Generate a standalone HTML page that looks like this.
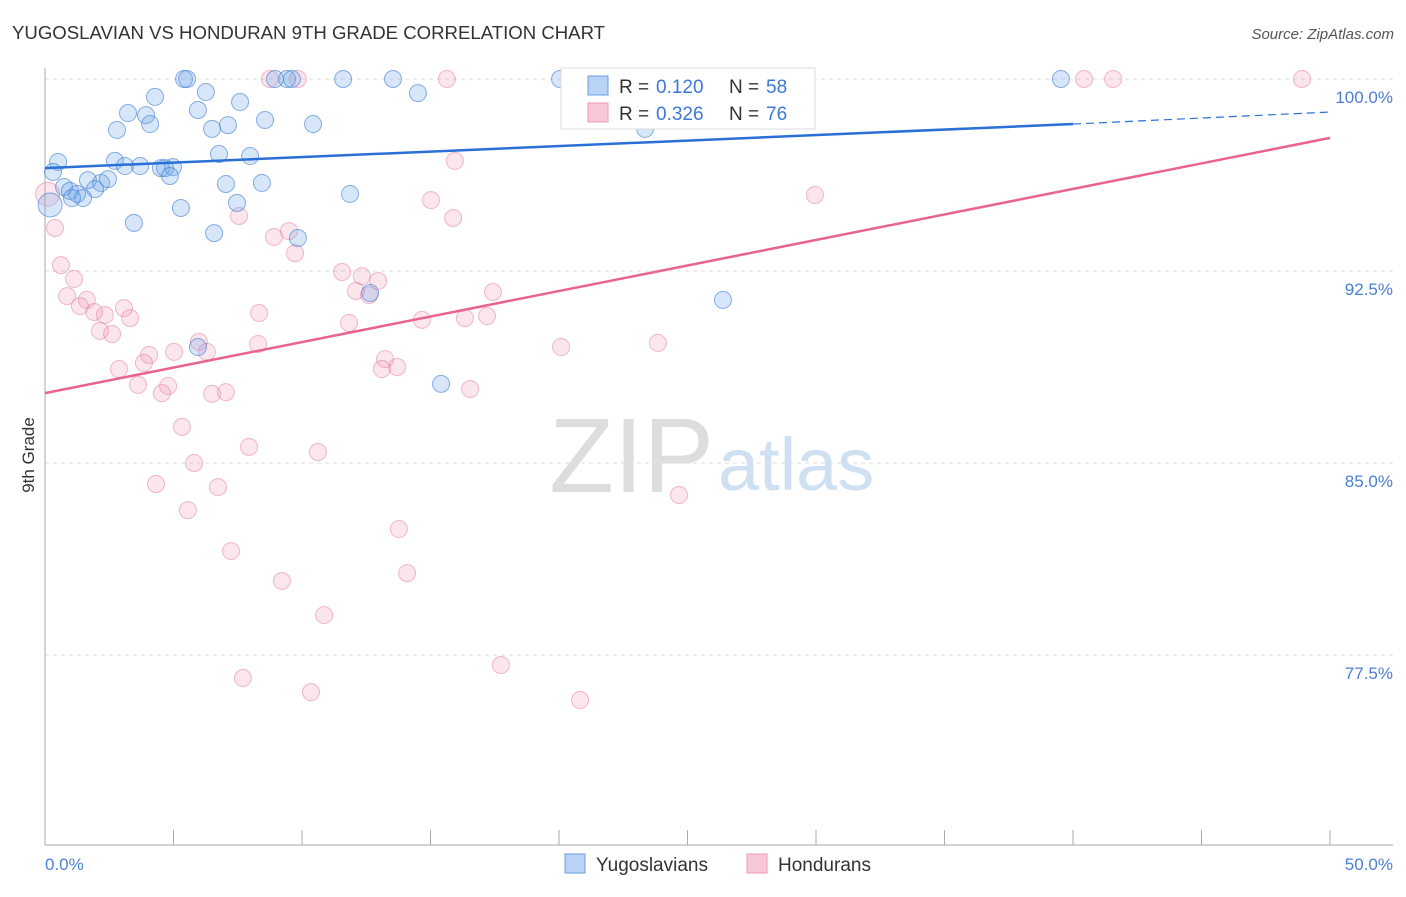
<!DOCTYPE html>
<html><head><meta charset="utf-8"><style>
body{margin:0;background:#fff;font-family:"Liberation Sans",sans-serif;}
svg text{font-family:"Liberation Sans",sans-serif;}
</style></head><body>
<svg id="chart" width="1406" height="892">
<text x="12" y="39" font-size="18.6" fill="#333">YUGOSLAVIAN VS HONDURAN 9TH GRADE CORRELATION CHART</text>
<text x="1394" y="39" font-size="15" fill="#555" font-style="italic" text-anchor="end">Source: ZipAtlas.com</text>
<text x="714" y="492" font-size="106" fill="#ddd" text-anchor="end" font-family="Liberation Serif">ZIP</text>
<text x="718" y="490" font-size="74" fill="#cfe0f3">atlas</text>
<text transform="translate(34,455) rotate(-90)" font-size="17" fill="#333" text-anchor="middle">9th Grade</text>
<g id="grid"></g><g id="marks"></g>
<g>
<rect x="561" y="68" width="254" height="61" fill="#fff" stroke="#ddd"/>
<rect x="588" y="76" width="20" height="19" fill="#b8d3f5" stroke="#6a9ee0"/>
<text x="619" y="93" font-size="19" fill="#333">R =</text><text x="656" y="93" font-size="19" fill="#3b78d8">0.120</text>
<text x="729" y="93" font-size="19" fill="#333">N =</text><text x="766" y="93" font-size="19" fill="#3b78d8">58</text>
<rect x="588" y="103" width="20" height="19" fill="#f9c8d7" stroke="#ea9ab5"/>
<text x="619" y="120" font-size="19" fill="#333">R =</text><text x="656" y="120" font-size="19" fill="#3b78d8">0.326</text>
<text x="729" y="120" font-size="19" fill="#333">N =</text><text x="766" y="120" font-size="19" fill="#3b78d8">76</text>
</g>
<g>
<rect x="565" y="854" width="20" height="19" fill="#b8d3f5" stroke="#6a9ee0"/>
<text x="596" y="871" font-size="19" fill="#333">Yugoslavians</text>
<rect x="747" y="854" width="20" height="19" fill="#f9c8d7" stroke="#ea9ab5"/>
<text x="778" y="871" font-size="19" fill="#333">Hondurans</text>
</g>
</svg>
<script>
const yTicks=[100,92.5,85,77.5];
const yTickLabels=["100.0%","92.5%","85.0%","77.5%"];
const xTickLabels=["0.0%","50.0%"];
const blueX=[5.41,5.53,8.95,9.42,9.61,11.6,13.54,20.04,20.62,39.53,6.26,4.28,14.51,7.59,3.23,3.93,5.95,4.09,2.80,6.50,7.12,8.56,10.43,23.35,6.77,7.98,0.51,2.72,3.11,3.70,4.51,4.98,4.67,4.86,0.31,1.67,2.18,2.45,7.04,8.44,0.74,0.97,1.25,1.95,1.48,1.05,11.87,5.29,7.47,3.46,6.58,9.84,26.38,12.65,5.95,15.41,0.2];
const blueY=[100,100,100,100,100,100,100,100,100,100,99.49,99.30,99.45,99.10,98.67,98.59,98.79,98.24,98.01,98.05,98.20,98.40,98.24,98.05,97.07,96.99,96.76,96.80,96.60,96.60,96.52,96.56,96.52,96.21,96.37,96.05,95.94,96.09,95.90,95.94,95.78,95.63,95.51,95.70,95.35,95.35,95.51,94.96,95.16,94.38,93.98,93.79,91.37,91.64,89.53,88.09,95.08];
const pinkX=[8.75,9.84,15.64,28.40,40.43,41.56,48.91,15.95,29.96,15.02,15.88,7.55,0.39,9.49,8.91,9.73,0.62,1.13,11.56,12.33,12.96,12.10,12.61,17.43,0.86,1.63,1.36,3.07,1.91,2.33,3.31,8.33,11.83,14.67,16.34,17.20,2.14,2.61,5.99,8.29,20.08,23.85,4.05,5.02,6.30,13.23,3.85,2.88,13.70,13.11,4.79,3.62,4.55,6.50,7.04,16.54,5.33,7.94,10.62,5.80,4.32,6.73,24.67,5.56,13.77,7.24,14.09,9.22,10.86,17.74,7.70,10.35,20.82,0.1];
const pinkY=[100,100,100,100,100,100,100,96.80,95.47,95.27,94.57,94.65,94.18,94.06,93.83,93.20,92.73,92.19,92.46,92.30,92.11,91.72,91.56,91.68,91.52,91.37,91.13,91.05,90.90,90.78,90.66,90.86,90.47,90.59,90.66,90.74,90.16,90.04,89.73,89.65,89.53,89.69,89.22,89.34,89.34,89.06,88.91,88.67,88.75,88.67,88.01,88.05,87.73,87.70,87.77,87.89,86.41,85.63,85.43,85.00,84.18,84.06,83.75,83.16,82.42,81.56,80.70,80.39,79.06,77.11,76.60,76.05,75.74,95.5];
const blueTrend=[96.52,98.24,98.71];
const pinkTrend=[87.73,97.70];
const NS="http://www.w3.org/2000/svg";
const sx=v=>45+v*25.7, sy=v=>79+(100-v)*25.6;
function mk(t,a,p){const e=document.createElementNS(NS,t);for(const k in a)e.setAttribute(k,a[k]);p.appendChild(e);return e;}
const grid=document.getElementById('grid'),marks=document.getElementById('marks');
yTicks.forEach((v,i)=>{
 const l=mk('line',{x1:45,x2:1393,y1:sy(v),y2:sy(v),stroke:'#ddd','stroke-dasharray':'4,4'},grid);
 
 
 const t=mk('text',{x:1393,y:sy(v)+24,'font-size':17,fill:'#4a7fd4','text-anchor':'end'},grid);t.textContent=yTickLabels[i];
 
 
});
mk('line',{x1:45,x2:45,y1:68,y2:845,stroke:'#aaa'},grid);
mk('line',{x1:45,x2:1393,y1:845,y2:845,stroke:'#aaa'},grid);
for(let i=0;i<=10;i++){mk('line',{x1:sx(i*5),x2:sx(i*5),y1:830,y2:845,stroke:'#aaa'},grid);}
[[0,'start',45],[50,'end',1393]].forEach((d,i)=>{const t=mk('text',{x:d[2],y:870,'font-size':17,fill:'#4a7fd4','text-anchor':d[1]},grid);t.textContent=xTickLabels[i];
 
 });
function dots(X,Y,fill,stroke,name){X.forEach((x,i)=>{const big=(x<0.3);const c=mk('circle',{cx:sx(x),cy:sy(Y[i]),r:big?12:8.5,fill:fill,stroke:stroke,'stroke-width':1},marks);
 
 });}
dots(pinkX,pinkY,'rgba(240,140,175,0.22)','rgba(225,120,155,0.5)','honduran-point');
dots(blueX,blueY,'rgba(110,165,230,0.28)','rgba(60,125,210,0.6)','yugoslavian-point');
const b1=mk('line',{x1:sx(0),y1:sy(blueTrend[0]),x2:sx(40),y2:sy(blueTrend[1]),stroke:'#2a6fd6','stroke-width':2.5},marks);


mk('line',{x1:sx(40),y1:sy(blueTrend[1]),x2:sx(50),y2:sy(blueTrend[2]),stroke:'#2a6fd6','stroke-width':1.2,'stroke-dasharray':'8,5'},marks);
const p1=mk('line',{x1:sx(0),y1:sy(pinkTrend[0]),x2:sx(50),y2:sy(pinkTrend[1]),stroke:'#e8648f','stroke-width':2.5},marks);


</script>
</body></html>
